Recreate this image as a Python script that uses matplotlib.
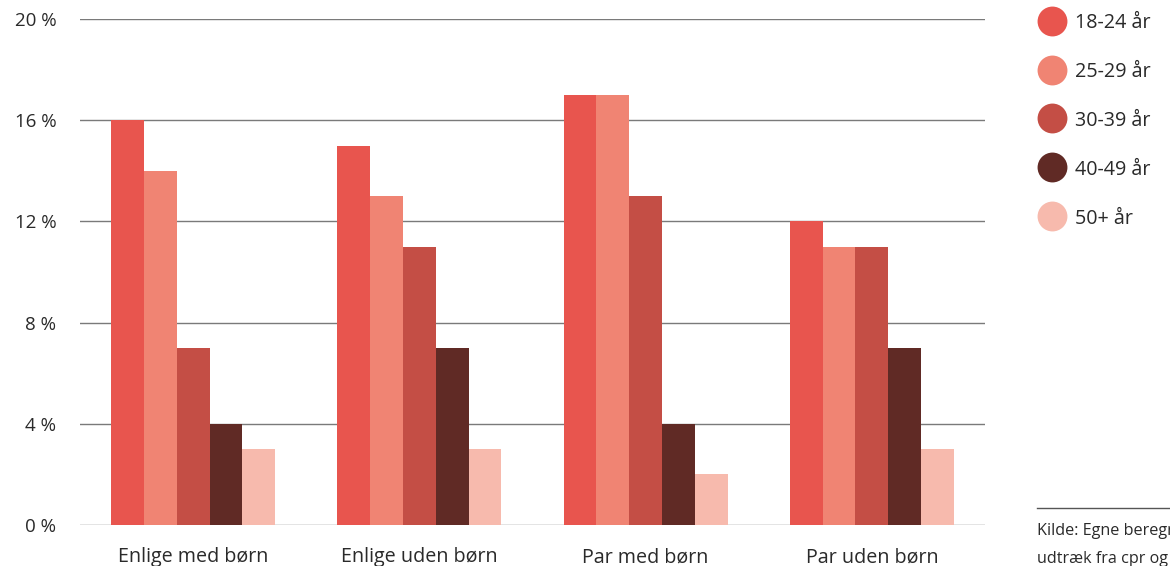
import matplotlib
matplotlib.use("Agg")
import matplotlib.pyplot as plt
from matplotlib.lines import Line2D
import numpy as np

categories = ["Enlige med børn", "Enlige uden børn", "Par med børn", "Par uden børn"]
series_labels = ["18-24 år", "25-29 år", "30-39 år", "40-49 år", "50+ år"]
values_18_24 = [16, 15, 17, 12]
values_25_29 = [14, 13, 17, 11]
values_30_39 = [7, 11, 13, 11]
values_40_49 = [4, 7, 4, 7]
values_50p = [3, 3, 2, 3]
series_values = [values_18_24, values_25_29, values_30_39, values_40_49, values_50p]
colors = ["#E8554E", "#F08473", "#C44E45", "#602A25", "#F7BAAD"]
yticks = [0, 4, 8, 12, 16, 20]
ytick_labels = ["0 %", "4 %", "8 %", "12 %", "16 %", "20 %"]

plt.rcParams['font.family'] = ['Open Sans', 'DejaVu Sans']
text_color = "#2a2a2a"

fig = plt.figure(figsize=(11.7, 5.66), dpi=100)
ax = fig.add_axes([80/1170, 41/566, 905/1170, 506/566])

x = np.arange(len(categories))
w = 0.145
n = len(series_values)
for i, (vals, c) in enumerate(zip(series_values, colors)):
    ax.bar(x + (i - (n - 1) / 2) * w, vals, width=w, color=c, zorder=3, linewidth=0)

ax.set_xlim(-0.5, len(categories) - 0.5)
ax.set_ylim(0, 20)
ax.set_yticks(yticks)
ax.set_yticklabels(ytick_labels, fontsize=13.5, color=text_color)
ax.set_xticks(x)
ax.set_xticklabels(categories, fontsize=14.2, color=text_color)
ax.tick_params(axis='y', length=0, pad=17)
ax.tick_params(axis='x', length=0, pad=16)
for s in ax.spines.values():
    s.set_visible(False)
ax.yaxis.grid(True, color="#7a7a7a", linewidth=1.0, zorder=0)
ax.set_axisbelow(True)

# legend
leg_x = 1052 / 1170
leg_y0 = 21
for i, (lab, c) in enumerate(zip(series_labels, colors)):
    yy = 1 - (leg_y0 + i * 48.75) / 566
    fig.add_artist(Line2D([leg_x], [yy], marker='o', markersize=21.5, color=c,
                          markeredgewidth=0, linestyle='none', transform=fig.transFigure))
    fig.text(1075 / 1170, yy, lab, fontsize=14.2, color=text_color, va='center_baseline', ha='left')

# source
fig.add_artist(Line2D([1037 / 1170, 1.0], [1 - 508 / 566, 1 - 508 / 566], color="#555555",
                      linewidth=1.0, transform=fig.transFigure))
fig.text(1037 / 1170, 1 - 530 / 566, "Kilde: Egne beregninger på baggrund af", fontsize=11.6,
         color=text_color, va='center', ha='left')
fig.text(1037 / 1170, 1 - 559 / 566, "udtræk fra cpr og boligregistre", fontsize=11.6,
         color=text_color, va='center', ha='left')

fig.savefig("out.png", dpi=100)
